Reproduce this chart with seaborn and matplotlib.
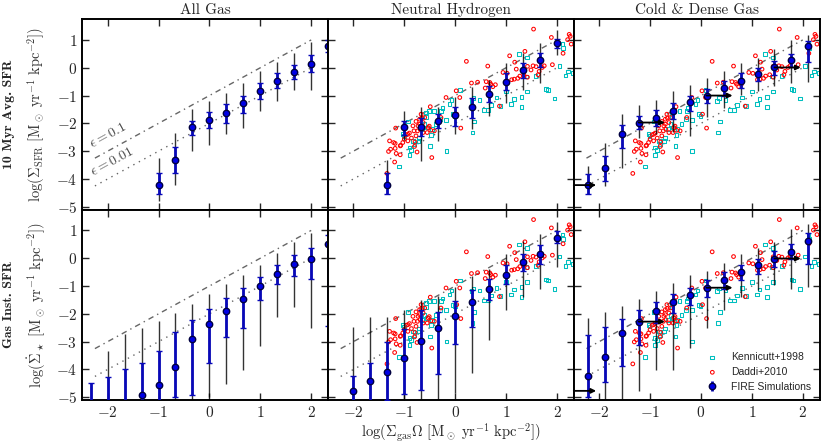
import numpy as np
import matplotlib
matplotlib.use("Agg")
import matplotlib.pyplot as plt
import seaborn as sns

# ---- FIRE bins ----
# each panel: bin centres, median, inner (blue) range, outer (black) range

# All Gas, 10 Myr avg
x_all_t = [-1.0, -0.667, -0.333, 0.0, 0.333, 0.667, 1.0, 1.333, 1.667, 2.0, 2.333]
y_all_t = [-4.22, -3.33, -2.12, -1.88, -1.63, -1.28, -0.83, -0.47, -0.14, 0.13, 0.79]
blo_all_t = [-4.53, -3.77, -2.42, -2.17, -1.99, -1.64, -1.14, -0.73, -0.42, -0.14, 0.58]
bhi_all_t = [-3.80, -2.85, -1.90, -1.60, -1.31, -1.00, -0.55, -0.19, 0.11, 0.46, 1.00]
klo_all_t = [-4.80, -4.22, -3.00, -2.77, -2.39, -2.17, -1.55, -1.21, -0.80, -0.80, 0.30]
khi_all_t = [-3.23, -2.36, -1.49, -1.19, -0.91, -0.55, -0.13, 0.22, 0.53, 0.91, 1.30]

# All Gas, instantaneous
x_all_b = [-2.333, -2.0, -1.667, -1.333, -1.0, -0.667, -0.333, 0.0, 0.333, 0.667, 1.0, 1.333, 1.667, 2.0, 2.333]
y_all_b = [-5.6, -5.4, -5.3, -4.93, -4.55, -3.90, -2.90, -2.37, -1.89, -1.48, -1.00, -0.57, -0.21, -0.02, 0.50]
blo_all_b = [-6.0, -6.0, -6.0, -6.0, -6.0, -4.99, -4.93, -3.76, -2.85, -2.51, -1.50, -0.94, -0.64, -0.73, -2.45]
bhi_all_b = [-4.50, -4.26, -4.00, -3.76, -3.32, -2.65, -2.23, -1.83, -1.44, -1.08, -0.67, -0.25, 0.11, 0.38, 0.82]
klo_all_b = [-6.0, -6.0, -6.0, -6.0, -6.0, -6.0, -6.0, -5.0, -4.54, -4.02, -3.17, -2.10, -1.74, -2.51, -3.00]
khi_all_b = [-4.60, -3.35, -2.73, -2.51, -2.27, -1.98, -1.63, -1.30, -0.94, -0.61, -0.23, 0.20, 0.58, 0.92, 1.30]

# Neutral Hydrogen, 10 Myr avg
x_hi_t = [-1.333, -1.0, -0.667, -0.333, 0.0, 0.333, 0.667, 1.0, 1.333, 1.667, 2.0]
y_hi_t = [-4.22, -2.12, -2.12, -1.90, -1.70, -1.40, -0.95, -0.50, -0.08, 0.28, 0.89]
blo_hi_t = [-4.53, -2.42, -2.46, -2.17, -2.11, -1.79, -1.23, -0.80, -0.37, 0.01, 0.70]
bhi_hi_t = [-3.80, -1.93, -1.81, -1.67, -1.40, -1.10, -0.65, -0.20, 0.16, 0.53, 1.02]
klo_hi_t = [-4.50, -2.60, -3.35, -2.63, -2.39, -2.21, -1.73, -1.27, -0.80, -0.54, 0.45]
khi_hi_t = [-3.30, -1.55, -1.40, -1.40, -1.04, -0.68, -0.44, 0.17, 0.53, 0.88, 1.37]

# Neutral Hydrogen, instantaneous
x_hi_b = [-2.0, -1.667, -1.333, -1.0, -0.667, -0.333, 0.0, 0.333, 0.667, 1.0, 1.333, 1.667, 2.0]
y_hi_b = [-4.77, -4.41, -4.09, -3.60, -2.97, -2.50, -2.07, -1.58, -1.09, -0.59, -0.13, 0.17, 0.74]
blo_hi_b = [-6.0, -6.0, -5.1, -4.89, -4.73, -4.16, -3.10, -2.49, -1.50, -0.91, -0.47, -0.19, 0.53]
bhi_hi_b = [-4.23, -3.78, -3.00, -2.56, -1.86, -1.92, -1.53, -1.15, -0.76, -0.25, 0.14, 0.49, 0.98]
klo_hi_b = [-6.0, -6.0, -6.0, -6.0, -6.0, -6.0, -4.85, -4.11, -2.94, -1.86, -1.39, -1.09, -0.31]
khi_hi_b = [-2.46, -2.10, -2.10, -1.86, -1.50, -1.36, -1.05, -0.65, -0.37, 0.17, 0.62, 0.88, 1.30]

# Cold & Dense Gas, 10 Myr avg
x_cd = [-2.222, -1.889, -1.556, -1.222, -0.889, -0.556, -0.222, 0.111, 0.444, 0.778, 1.111, 1.444, 1.778, 2.111]
y_cd_t = [-4.22, -3.59, -2.39, -1.97, -1.79, -1.55, -1.24, -1.00, -0.73, -0.47, -0.23, 0.01, 0.29, 0.77]
blo_cd_t = [-4.53, -4.07, -2.87, -2.21, -2.09, -1.85, -1.55, -1.25, -1.03, -0.73, -0.47, -0.25, 0.01, 0.19]
bhi_cd_t = [-3.83, -3.17, -2.05, -1.73, -1.51, -1.28, -1.00, -0.77, -0.49, -0.20, -0.02, 0.23, 0.49, 0.97]
klo_cd_t = [-4.55, -4.25, -3.59, -2.51, -2.40, -2.30, -2.45, -1.76, -1.43, -0.97, -0.83, -0.65, -0.56, -0.53]
khi_cd_t = [-3.55, -2.69, -1.67, -1.33, -1.15, -0.85, -0.61, -0.37, -0.13, 0.17, 0.35, 0.67, 1.00, 1.19]

# Cold & Dense Gas, instantaneous
y_cd_b = [-4.25, -3.54, -2.70, -2.28, -1.90, -1.59, -1.33, -1.06, -0.79, -0.49, -0.25, -0.01, 0.23, 0.62]
blo_cd_b = [-5.00, -4.46, -3.86, -3.12, -2.34, -1.98, -1.68, -1.41, -1.09, -0.79, -0.55, -0.31, -0.04, -0.19]
bhi_cd_b = [-2.76, -2.49, -2.19, -1.86, -1.57, -1.29, -1.06, -0.79, -0.51, -0.25, -0.01, 0.26, 0.50, 0.91]
klo_cd_b = [-6.0, -6.0, -6.0, -4.79, -4.01, -4.01, -3.24, -2.52, -1.86, -1.41, -1.15, -0.97, -1.12, -1.05]
khi_cd_b = [-2.16, -1.95, -1.72, -1.47, -1.17, -0.88, -0.61, -0.45, -0.17, 0.17, 0.35, 0.59, 1.06, 1.24]

# arrows in the cold & dense panels (start x, end x, y)
arr_x0 = [-2.5, -1.222, 0.111, 1.444]
arr_x1 = [-2.06, -0.71, 0.62, 1.96]
arr_y_t = [-4.22, -1.97, -1.00, 0.01]
arr_y_b = [-4.77, -2.28, -1.06, -0.01]

# efficiency lines
eps_x = [-2.25, 2.0]
eps1_y = [-3.25, 1.0]
eps2_y = [-4.25, 0.0]

# ---- observations ----
daddi_x = [1.54, 1.89, 2.24, 2.26, 2.21, 2.28, 2.12, 1.37, 1.07, 1.42, 1.49, 1.53, 1.59, 1.75, 1.91,
           1.65, 1.63, 1.71, 1.20, 1.17, 1.27, 1.35, 1.23, 1.16, 1.11, 1.02, 0.94, 1.42, 0.79, 0.74,
           0.70, 0.64, 0.61, 0.68, 0.59, 0.44, 0.32, 0.22, 0.87, 0.09, 0.03, 0.11, -0.18, -0.49, -0.46,
           -0.60, -0.67, -0.70, -0.63, -0.77, -0.73, -0.69, -0.63, -0.81, -0.90, -0.83, -0.96, -0.86,
           -0.93, -1.03, -1.08, -1.17, -1.18, -1.29, -1.18, -1.27, -1.16, -1.08, -1.19, -1.34, -0.55,
           -0.53, -0.77, -1.00, -0.28, -0.70, -0.66, -0.51, -0.48, -0.41, -0.74, -0.79, -0.80, -1.21,
           -1.07, -1.31, -0.75, -0.93, 0.02]
daddi_y = [1.39, 1.09, 1.20, 1.13, 1.01, 0.85, 0.52, 0.59, 0.43, 0.05, -0.08, 0.07, 0.04, 0.07, 0.11,
           -0.13, -0.25, 0.01, -0.05, 0.20, -0.30, -0.25, -0.38, -0.41, -0.43, -0.20, -0.17, -0.34, -0.61, -0.68,
           -0.59, 0.06, -0.50, -0.53, -0.73, -0.52, -0.55, 0.23, -1.38, -1.07, -1.67, -2.17, -1.07, -1.40, -3.23,
           -1.79, -1.67, -1.85, -1.97, -1.93, -2.09, -2.21, -2.33, -2.27, -2.35, -2.09, -2.41, -2.53,
           -2.63, -2.69, -2.81, -2.17, -2.72, -2.63, -2.90, -2.93, -3.08, -3.13, -3.39, -3.80, -2.33,
           -2.15, -2.45, -2.57, -1.79, -2.03, -1.81, -2.10, -2.25, -2.27, -2.27, -2.67, -2.83, -2.69,
           -2.79, -3.01, -3.03, -2.39, -0.83]

kenn_x = [1.26, 1.41, 2.11, 2.12, 2.05, 2.17, 2.22, 2.32, 1.78, 1.82, 1.95, 1.58, 1.40, 1.41, 1.30,
          1.30, 1.15, 1.10, 1.00, 0.89, 0.81, 0.71, 0.65, 0.57, 0.48, 0.36, 0.32, 0.37, 0.34, 0.09,
          -0.07, -0.01, -0.18, -0.17, -0.28, -0.30, -0.38, -0.42, -0.52, -0.57, -0.60, -0.46, -0.48,
          -0.55, -0.71, -0.72, -0.80, -0.90, -0.83, -0.93, -1.01, -0.90, -1.10, -0.50, -0.65, -1.03,
          -0.87, -0.57, -0.04, -0.11, -0.25]
kenn_y = [0.49, 0.37, 0.85, 0.70, 0.06, -0.28, -0.14, -0.20, -0.77, -0.80, -1.10, -0.29, -0.32, -0.85, -1.04,
          -1.40, -1.13, -1.31, -0.85, -1.37, -1.07, -1.34, -1.52, -1.52, -1.16, -1.09, -1.19, -1.93, -2.33, -0.80,
          -1.16, -1.73, -1.87, -2.99, -1.55, -1.85, -2.03, -1.55, -1.55, -1.76, -2.03, -2.21, -2.41,
          -2.15, -2.53, -2.63, -2.75, -2.87, -2.63, -1.93, -2.45, -3.13, -3.55, -2.81, -2.21, -2.39,
          -2.95, -1.61, -1.67, -1.31, -1.45]

col_titles = ["All Gas", "Neutral Hydrogen", "Cold & Dense Gas"]
row_titles = ["10 Myr Avg. SFR", "Gas Inst. SFR"]
row_ylabels = [r"$\log(\Sigma_{\rm SFR}\ [{\rm M_\odot\ yr^{-1}\ kpc^{-2}}])$",
               r"$\log(\dot{\Sigma}_\star\ [{\rm M_\odot\ yr^{-1}\ kpc^{-2}}])$"]
xlabel = r"$\log(\Sigma_{\rm gas}\Omega\ [{\rm M_\odot\ yr^{-1}\ kpc^{-2}}])$"

panels = [
    [(x_all_t, y_all_t, blo_all_t, bhi_all_t, klo_all_t, khi_all_t),
     (x_hi_t, y_hi_t, blo_hi_t, bhi_hi_t, klo_hi_t, khi_hi_t),
     (x_cd, y_cd_t, blo_cd_t, bhi_cd_t, klo_cd_t, khi_cd_t)],
    [(x_all_b, y_all_b, blo_all_b, bhi_all_b, klo_all_b, khi_all_b),
     (x_hi_b, y_hi_b, blo_hi_b, bhi_hi_b, klo_hi_b, khi_hi_b),
     (x_cd, y_cd_b, blo_cd_b, bhi_cd_b, klo_cd_b, khi_cd_b)],
]

sns.set_style("ticks")
plt.rcParams["font.family"] = ["cmr10", "DejaVu Serif"]
plt.rcParams["mathtext.fontset"] = "cm"
plt.rcParams["axes.formatter.use_mathtext"] = True
plt.rcParams["axes.unicode_minus"] = True

fire_kw = dict(fmt="o", color="#0000e6", mec="#000040", ms=4.6, ecolor="#0808b8", elinewidth=2,
               capsize=2, capthick=1)
obs_s = 7

fig, axes = plt.subplots(2, 3, figsize=(8.22, 4.44), dpi=100, sharex=True, sharey=True)
fig.subplots_adjust(left=0.1, right=0.997, bottom=0.099, top=0.957, wspace=0, hspace=0)

for r in range(2):
    for c in range(3):
        ax = axes[r, c]
        x, y, blo, bhi, klo, khi = [np.array(a) for a in panels[r][c]]

        ax.plot(eps_x, eps1_y, color="0.4", lw=1.0, dashes=(4, 3, 1, 3), zorder=1)
        ax.plot(eps_x, eps2_y, color="0.4", lw=1.0, dashes=(1, 3.5), zorder=1)

        if c > 0:
            sns.scatterplot(x=kenn_x, y=kenn_y, ax=ax, marker="s", s=obs_s, facecolors="none",
                            edgecolor="c", linewidth=0.75, zorder=2)
            sns.scatterplot(x=daddi_x, y=daddi_y, ax=ax, marker="o", s=obs_s, facecolors="none",
                            edgecolor="r", linewidth=0.75, zorder=2)

        ax.errorbar(x, y, yerr=[np.clip(y - klo, 0, None), np.clip(khi - y, 0, None)], fmt="none",
                    ecolor="k", elinewidth=1.0, alpha=0.8, capsize=0, zorder=3)
        ax.errorbar(x, y, yerr=[np.clip(y - blo, 0, None), np.clip(bhi - y, 0, None)],
                    zorder=4, **fire_kw)

        if c == 2:
            arr_y = arr_y_t if r == 0 else arr_y_b
            for x0, x1, ya in zip(arr_x0, arr_x1, arr_y):
                ax.annotate("", xy=(x1, ya), xytext=(x0, ya),
                            arrowprops=dict(arrowstyle="-|>", color="k", lw=1.3, mutation_scale=7,
                                            shrinkA=0, shrinkB=0), zorder=5)

        ax.set_xlim(-2.5, 2.33)
        ax.set_ylim(-5.1, 1.75)
        ax.set_xticks([-2, -1, 0, 1, 2])
        ax.set_yticks([-5, -4, -3, -2, -1, 0, 1])
        ax.tick_params(direction="in", top=True, right=True, length=5, width=1, labelsize=11)
        for sp in ax.spines.values():
            sp.set_linewidth(1.4)
            sp.set_color("k")

        if r == 0:
            ax.set_title(col_titles[c], fontsize=11, pad=4)
        if c == 0:
            ax.set_ylabel(row_ylabels[r], fontsize=10.5, color="0.2")
            ax.yaxis.set_label_coords(-0.14, 0.5)

axes[1, 1].set_xlabel(xlabel, fontsize=10.5, labelpad=1)

# efficiency labels (top-left panel only)
ax = axes[0, 0]
ax.text(-2.27, -3.0, r"$\epsilon = 0.1$", rotation=28.7, rotation_mode="anchor",
        ha="left", va="bottom", fontsize=10, color="0.3")
ax.text(-2.25, -4.0, r"$\epsilon = 0.01$", rotation=28.7, rotation_mode="anchor",
        ha="left", va="bottom", fontsize=10, color="0.3")

for r in range(2):
    pos = axes[r, 0].get_position()
    fig.text(0.011, (pos.y0 + pos.y1) / 2, row_titles[r], rotation=90, ha="center", va="center",
             fontsize=10, family="cmb10")

# legend
ax = axes[1, 2]
h_k = ax.scatter([], [], marker="s", s=obs_s, facecolors="none", edgecolors="c", linewidths=0.75)
h_d = ax.scatter([], [], marker="o", s=obs_s, facecolors="none", edgecolors="r", linewidths=0.75)
h_f = ax.errorbar([], [], yerr=[], **fire_kw)
ax.legend([h_k, h_d, h_f], ["Kennicutt+1998", "Daddi+2010", "FIRE Simulations"], loc="lower right",
          frameon=False, prop={"family": "Liberation Sans", "size": 7.5}, handletextpad=0.8,
          borderaxespad=0.4, labelspacing=0.45)

fig.savefig("out.png", dpi=100)
